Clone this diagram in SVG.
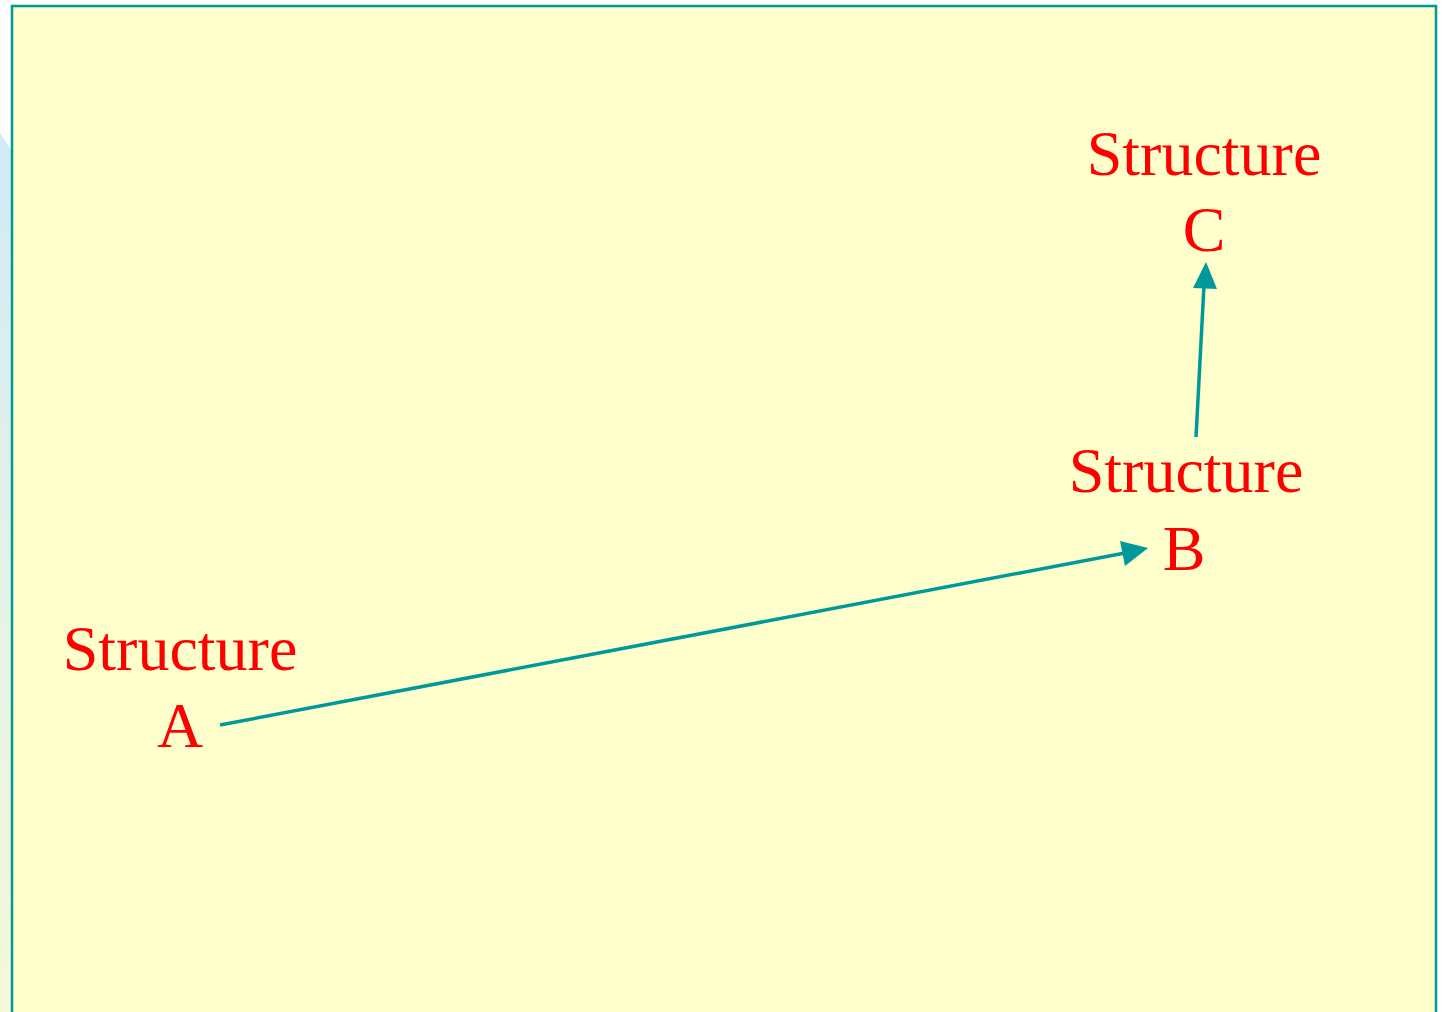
<svg xmlns="http://www.w3.org/2000/svg" width="1446" height="1012" viewBox="0 0 1446 1012">
<defs>
<linearGradient id="side" x1="0" y1="0" x2="0" y2="1">
<stop offset="0" stop-color="#D2EAF8"/>
<stop offset="0.5" stop-color="#E4F2E8"/>
<stop offset="1" stop-color="#F6F8D8"/>
</linearGradient>
<marker id="ah" markerWidth="10" markerHeight="10" refX="9" refY="5" orient="auto" markerUnits="userSpaceOnUse" viewBox="0 0 10 10">
<path d="M0,0 L10,5 L0,10 z" fill="#009999"/>
</marker>
<style>
.lbl{font-family:"Liberation Serif","Times New Roman",serif;font-size:64px;fill:#FF0000;text-anchor:middle}
.conn{stroke:#009999;stroke-width:3.5;fill:none}
</style>
</defs>
<rect width="1446" height="1012" fill="#FFFFFF"/>
<path d="M0,133 L11,150 L11,1012 L0,1012 z" fill="url(#side)"/>
<rect x="12" y="6" width="1424" height="1020" fill="#FFFFCC" stroke="#009999" stroke-width="2.5"/>
<g id="connectors">
<line class="conn" x1="220" y1="725" x2="1125" y2="553"/>
<path d="M1148,548 L1120,541 L1125,566 z" fill="#009999"/>
<line class="conn" x1="1196" y1="437" x2="1204" y2="285"/>
<path d="M1206,262 L1193,288 L1217,289 z" fill="#009999"/>
</g>
<g id="nodeA">
<text class="lbl" x="180" y="670">Structure</text>
<text class="lbl" x="180" y="747">A</text>
</g>
<g id="nodeB">
<text class="lbl" x="1186" y="492">Structure</text>
<text class="lbl" x="1184" y="570">B</text>
</g>
<g id="nodeC">
<text class="lbl" x="1204" y="175">Structure</text>
<text class="lbl" x="1204" y="251">C</text>
</g>
</svg>
